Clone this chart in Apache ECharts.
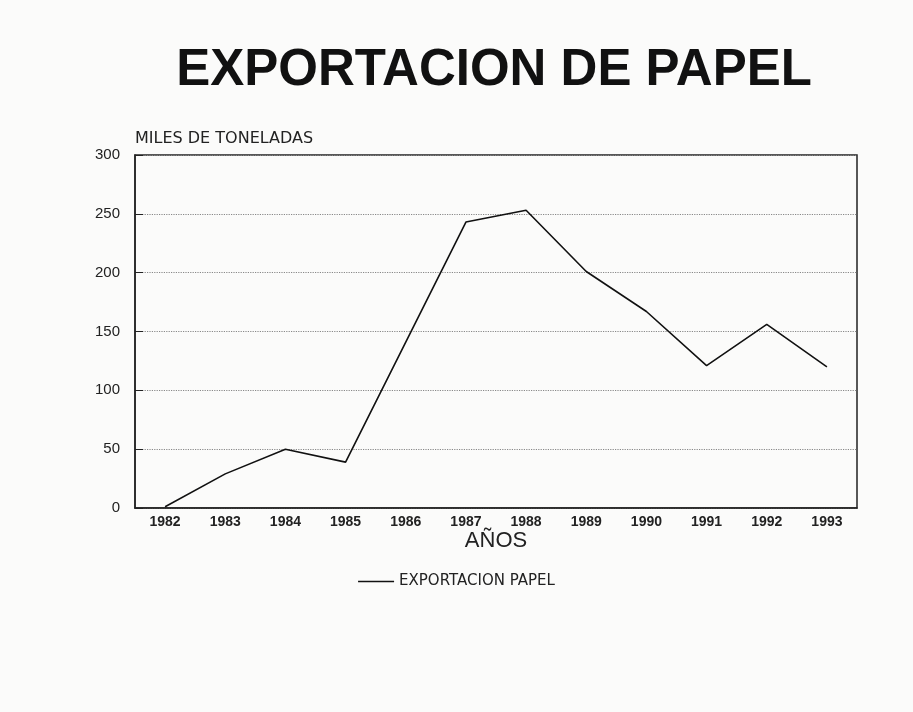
<!DOCTYPE html>
<html>
<head>
<meta charset="utf-8">
<script src="https://cdn.jsdelivr.net/npm/echarts@6/dist/echarts.min.js"></script>
<style>
  html, body { margin: 0; padding: 0; background: #fbfbfa; }
  #chart { width: 913px; height: 712px; }
</style>
</head>
<body>
<div id="chart"></div>
<script>
// datos
const years = ['1982', '1983', '1984', '1985', '1986', '1987', '1988', '1989', '1990', '1991', '1992', '1993']
const exportacion = [1, 29, 50, 39, 141, 243, 253, 201, 167, 121, 156, 120]
const seriesName = 'EXPORTACION PAPEL'

const chart = echarts.init(document.getElementById('chart'))

const option = {
  backgroundColor: '#fbfbfa',
  textStyle: { fontFamily: 'Liberation Sans, Arial, sans-serif' },
  title: {
    text: 'EXPORTACION DE PAPEL',
    left: 489,
    textAlign: 'center',
    top: 40,
    textStyle: { fontSize: 51, fontWeight: 'bold', color: '#111' }
  },
  grid: {
    left: 135,
    right: 56,
    top: 155,
    bottom: 204,
    show: true,
    borderColor: '#222',
    borderWidth: 1.5,
    backgroundColor: 'transparent'
  },
  legend: {
    top: 569,
    left: 'center',
    icon: 'path://M0,5 L40,5 L40,6.5 L0,6.5 Z',
    itemWidth: 36,
    itemHeight: 8,
    itemGap: 10,
    textStyle: { fontSize: 15, color: '#222', fontFamily: 'DejaVu Sans' },
    data: [seriesName]
  },
  xAxis: {
    type: 'category',
    data: years,
    boundaryGap: true,
    name: 'AÑOS',
    nameLocation: 'middle',
    nameGap: 20,
    nameTextStyle: { fontSize: 22, color: '#222' },
    axisLine: { lineStyle: { color: '#222', width: 1.5 } },
    axisTick: { inside: true, alignWithLabel: true, length: 8, lineStyle: { color: '#222' } },
    axisLabel: { fontSize: 14, fontWeight: 'bold', color: '#222', margin: 7 },
    splitLine: { show: false }
  },
  yAxis: {
    type: 'value',
    min: 0,
    max: 300,
    interval: 50,
    name: 'MILES DE TONELADAS',
    nameLocation: 'end',
    nameGap: 8,
    nameTextStyle: { fontSize: 16, color: '#222', align: 'left', fontFamily: 'DejaVu Sans' },
    axisLine: { show: true, lineStyle: { color: '#222', width: 1.5 } },
    axisTick: { show: true, inside: true, length: 8, lineStyle: { color: '#222' } },
    axisLabel: { fontSize: 15, color: '#222', margin: 15 },
    splitLine: { show: true, lineStyle: { color: '#888', type: 'dotted', width: 1.2 } }
  },
  series: [
    {
      name: seriesName,
      type: 'line',
      data: exportacion,
      symbol: 'none',
      lineStyle: { color: '#111', width: 1.6 },
      itemStyle: { color: '#111' }
    }
  ]
}

chart.setOption(option)
</script>
</body>
</html>
